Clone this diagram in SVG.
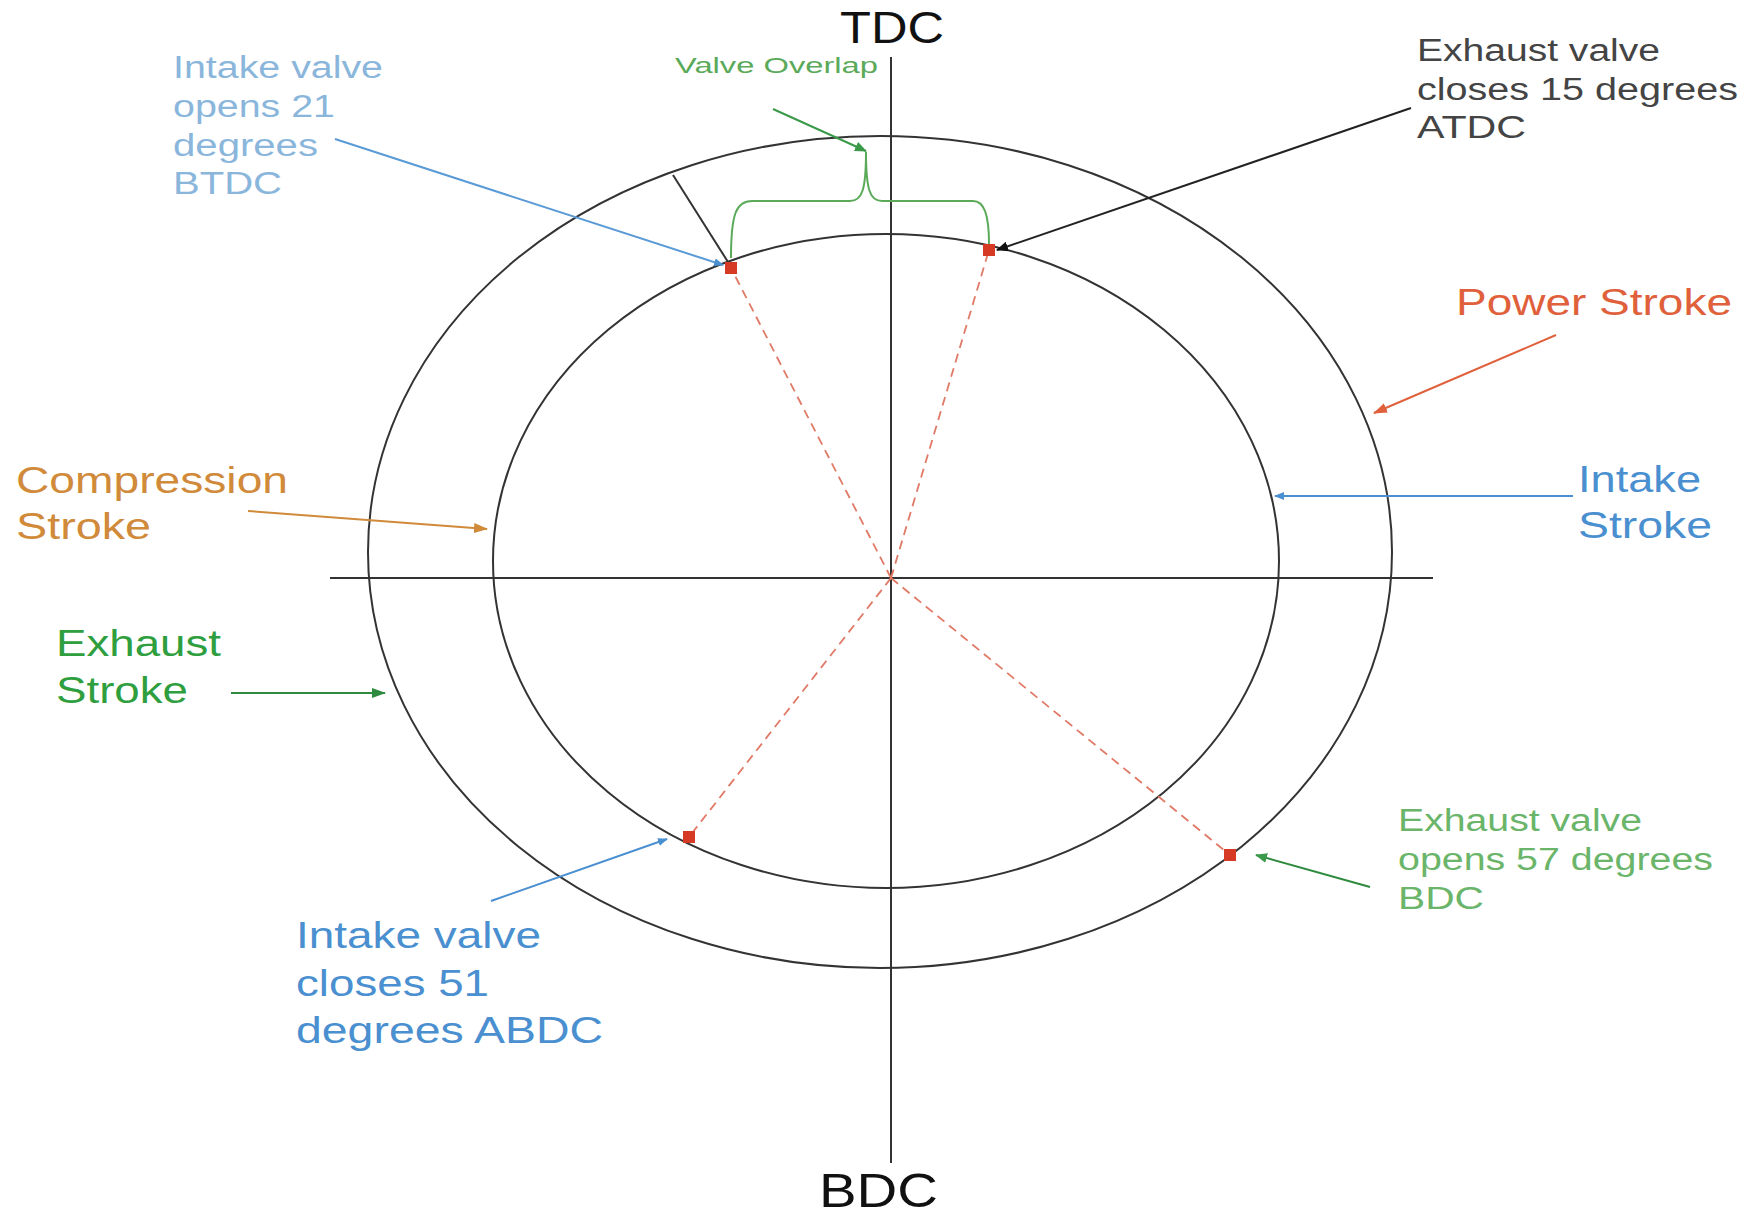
<svg xmlns="http://www.w3.org/2000/svg" width="1749" height="1215" viewBox="0 0 1749 1215">
<style>
text{font-family:"Liberation Sans",Arial,sans-serif}
.ax{stroke:#333;stroke-width:2;fill:none}
.el{stroke:#333;stroke-width:2;fill:none}
.dash{stroke:#e07a66;stroke-width:1.8;stroke-dasharray:9 6;fill:none}
.dot{fill:#d63a25}
</style>
<defs>
<marker id="mBlue" markerWidth="10" markerHeight="8" refX="9" refY="4" orient="auto" markerUnits="userSpaceOnUse" viewBox="0 0 10 8"><path d="M0,0L10,4L0,8z" fill="#4a8fd0"/></marker>
<marker id="mBlack" markerWidth="12" markerHeight="10" refX="11" refY="5" orient="auto" markerUnits="userSpaceOnUse" viewBox="0 0 12 10"><path d="M0,0L12,5L0,10z" fill="#111"/></marker>
<marker id="mRed" markerWidth="14" markerHeight="10" refX="13" refY="5" orient="auto" markerUnits="userSpaceOnUse" viewBox="0 0 14 10"><path d="M0,0L14,5L0,10z" fill="#e0603c"/></marker>
<marker id="mOrange" markerWidth="14" markerHeight="10" refX="13" refY="5" orient="auto" markerUnits="userSpaceOnUse" viewBox="0 0 14 10"><path d="M0,0L14,5L0,10z" fill="#d08a3a"/></marker>
<marker id="mGreen" markerWidth="14" markerHeight="10" refX="13" refY="5" orient="auto" markerUnits="userSpaceOnUse" viewBox="0 0 14 10"><path d="M0,0L14,5L0,10z" fill="#2e8a3e"/></marker>
<marker id="mLGreen" markerWidth="12" markerHeight="10" refX="11" refY="5" orient="auto" markerUnits="userSpaceOnUse" viewBox="0 0 12 10"><path d="M0,0L12,5L0,10z" fill="#3a9a4a"/></marker>
</defs>
<rect width="1749" height="1215" fill="#fff"/>

<g id="axes">
<line class="ax" x1="891" y1="57" x2="891" y2="1163"/>
<line class="ax" x1="330" y1="578" x2="1433" y2="578"/>
</g>
<g id="outer-circle"><ellipse class="el" cx="880" cy="552" rx="512" ry="416"/></g>
<g id="inner-circle"><ellipse class="el" cx="886" cy="561" rx="393" ry="327"/></g>

<g id="timing-lines">
<line class="dash" x1="891" y1="578" x2="731" y2="268"/>
<line class="dash" x1="891" y1="578" x2="989" y2="250"/>
<line class="dash" x1="891" y1="578" x2="689" y2="837"/>
<line class="dash" x1="891" y1="578" x2="1230" y2="855"/>
<line stroke="#333" stroke-width="2" x1="673" y1="175" x2="728" y2="262"/>
</g>

<g id="valve-points">
<rect class="dot" x="725" y="262" width="12" height="12"/>
<rect class="dot" x="983" y="244" width="12" height="12"/>
<rect class="dot" x="683" y="831" width="12" height="12"/>
<rect class="dot" x="1224" y="849" width="12" height="12"/>
</g>

<g id="connectors">
<path d="M731,258 C731,214 736,201 752,201 L850,201 C862,201 866,190 866,152 C866,190 870,201 882,201 L973,201 C984,201 989,214 989,244" fill="none" stroke="#5aaa5a" stroke-width="2"/>
<line x1="773" y1="109" x2="866" y2="151" stroke="#3a9a4a" stroke-width="2" marker-end="url(#mLGreen)"/>
<line x1="335" y1="139" x2="723" y2="265" stroke="#5a9ad6" stroke-width="2" marker-end="url(#mBlue)"/>
<line x1="1411" y1="108" x2="997" y2="250" stroke="#222" stroke-width="2" marker-end="url(#mBlack)"/>
<line x1="1556" y1="335" x2="1374" y2="413" stroke="#e0603c" stroke-width="2" marker-end="url(#mRed)"/>
<line x1="1573" y1="496" x2="1275" y2="496" stroke="#4a8fd0" stroke-width="2" marker-end="url(#mBlue)"/>
<line x1="248" y1="511" x2="487" y2="529" stroke="#d08a3a" stroke-width="2" marker-end="url(#mOrange)"/>
<line x1="231" y1="693" x2="385" y2="693" stroke="#2e8a3e" stroke-width="2" marker-end="url(#mGreen)"/>
<line x1="491" y1="901" x2="667" y2="839" stroke="#4a8fd0" stroke-width="2" marker-end="url(#mBlue)"/>
<line x1="1370" y1="887" x2="1256" y2="855" stroke="#2e8a3e" stroke-width="2" marker-end="url(#mLGreen)"/>
</g>

<g id="label-tdc"><text x="840" y="43" font-size="44" fill="#111" textLength="104" lengthAdjust="spacingAndGlyphs">TDC</text></g>
<g id="label-bdc"><text x="819" y="1207" font-size="48" fill="#111" textLength="119" lengthAdjust="spacingAndGlyphs">BDC</text></g>
<g id="label-valve-overlap"><text x="675" y="73" font-size="22" fill="#5aaa5a" textLength="203" lengthAdjust="spacingAndGlyphs">Valve Overlap</text></g>
<g id="label-intake-opens" fill="#8ab6dc" font-size="31">
<text x="173" y="78" textLength="210" lengthAdjust="spacingAndGlyphs">Intake valve</text>
<text x="173" y="117" textLength="162" lengthAdjust="spacingAndGlyphs">opens 21</text>
<text x="173" y="156" textLength="145" lengthAdjust="spacingAndGlyphs">degrees</text>
<text x="173" y="194" textLength="109" lengthAdjust="spacingAndGlyphs">BTDC</text>
</g>
<g id="label-exhaust-closes" fill="#444" font-size="31">
<text x="1417" y="61" textLength="243" lengthAdjust="spacingAndGlyphs">Exhaust valve</text>
<text x="1417" y="100" textLength="321" lengthAdjust="spacingAndGlyphs">closes 15 degrees</text>
<text x="1417" y="138" textLength="109" lengthAdjust="spacingAndGlyphs">ATDC</text>
</g>
<g id="label-power"><text x="1456" y="315" font-size="37" fill="#e0603c" textLength="276" lengthAdjust="spacingAndGlyphs">Power Stroke</text></g>
<g id="label-intake-stroke" fill="#4a8fd0" font-size="36">
<text x="1578" y="492" textLength="123" lengthAdjust="spacingAndGlyphs">Intake</text>
<text x="1578" y="538" textLength="134" lengthAdjust="spacingAndGlyphs">Stroke</text>
</g>
<g id="label-compression" fill="#d08a3a" font-size="36">
<text x="16" y="493" textLength="272" lengthAdjust="spacingAndGlyphs">Compression</text>
<text x="16" y="539" textLength="135" lengthAdjust="spacingAndGlyphs">Stroke</text>
</g>
<g id="label-exhaust-stroke" fill="#2e9e3e" font-size="36">
<text x="56" y="656" textLength="165" lengthAdjust="spacingAndGlyphs">Exhaust</text>
<text x="56" y="703" textLength="132" lengthAdjust="spacingAndGlyphs">Stroke</text>
</g>
<g id="label-intake-closes" fill="#4a8fd0" font-size="36">
<text x="296" y="948" textLength="245" lengthAdjust="spacingAndGlyphs">Intake valve</text>
<text x="296" y="996" textLength="193" lengthAdjust="spacingAndGlyphs">closes 51</text>
<text x="296" y="1043" textLength="307" lengthAdjust="spacingAndGlyphs">degrees ABDC</text>
</g>
<g id="label-exhaust-opens" fill="#6ab56a" font-size="31">
<text x="1398" y="831" textLength="244" lengthAdjust="spacingAndGlyphs">Exhaust valve</text>
<text x="1398" y="870" textLength="315" lengthAdjust="spacingAndGlyphs">opens 57 degrees</text>
<text x="1398" y="909" textLength="86" lengthAdjust="spacingAndGlyphs">BDC</text>
</g>
</svg>
